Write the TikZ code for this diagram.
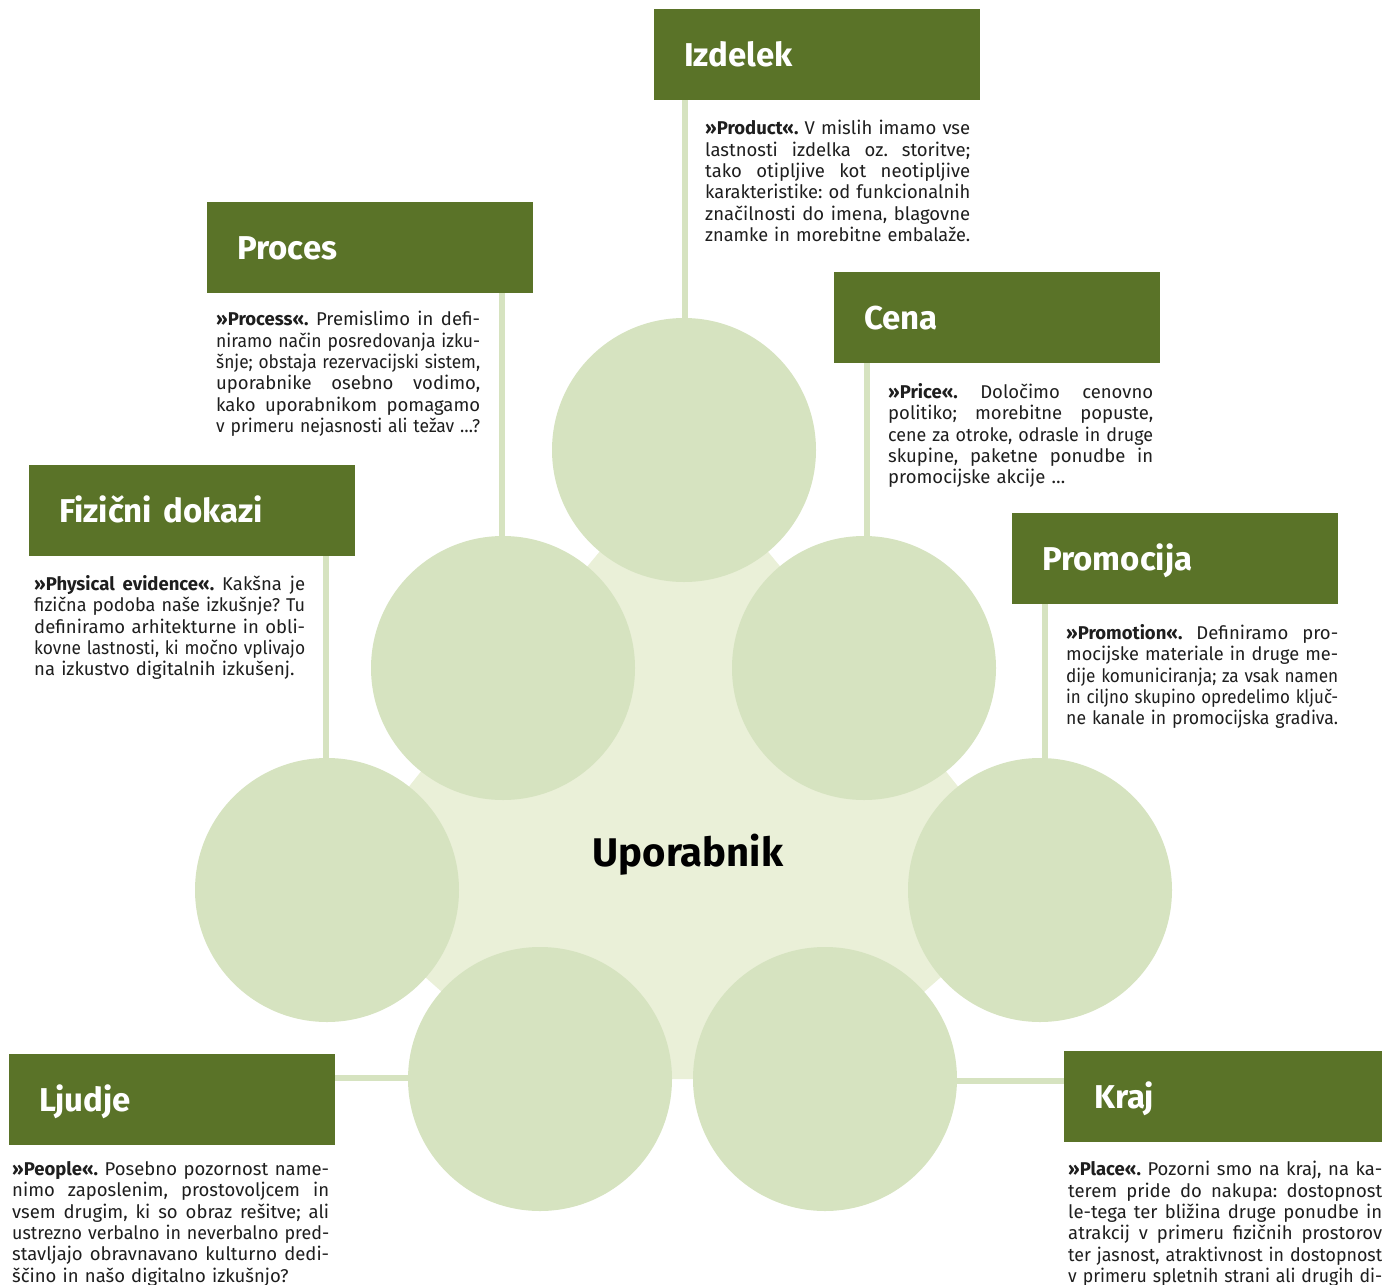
\documentclass[tikz,border=0pt]{standalone}
\usepackage{fontspec}
\setmainfont{Fira Sans}
\usepackage{graphicx}
\definecolor{dkgreen}{RGB}{90,115,40}
\definecolor{circg}{RGB}{214,227,192}
\definecolor{paleg}{RGB}{234,240,216}
\definecolor{ink}{RGB}{30,30,30}
\newlength\jlw
\newlength\pw
\newcommand\jl[1]{\settowidth\jlw{#1}\ifdim\jlw>\pw\relax\resizebox{\pw}{\height}{#1}\else{\spaceskip=\fontdimen2\font plus 1fil\relax\makebox[\pw][s]{#1}}\fi}
\newcommand\jlast[1]{\settowidth\jlw{#1}\ifdim\jlw>\pw\relax\resizebox{\pw}{\height}{#1}\else\makebox[\pw][l]{#1}\fi}
\tikzset{
  circ/.style={circle, fill=circg, draw=none, minimum size=264pt, inner sep=0pt},
  conn/.style={draw=circg, line width=6pt},
  headbox/.style={anchor=north west, fill=dkgreen, text=white, minimum width=326pt, minimum height=91pt,
    inner xsep=30pt, inner ysep=0pt, text width=266pt, align=left, text height=22.7pt, text depth=0pt,
    font=\fontsize{33pt}{37pt}\selectfont\bfseries},
  body/.style={anchor=north west, inner sep=0pt, text width=#1, align=left, text=ink,
    font=\fontsize{18.5pt}{21.4pt}\selectfont\frenchspacing,
    execute at begin node={\setlength\pw{#1}\rule{0pt}{14pt}}},
}
\begin{document}
\begin{tikzpicture}[x=1pt, y=-1pt]
\useasboundingbox (0,0) rectangle (1382,1285);
\clip (0,0) rectangle (1382,1285);
% circle positions
\path (684,450) coordinate (p1);
\path (864,668) coordinate (p2);
\path (1040,890) coordinate (p3);
\path (825,1079) coordinate (p4);
\path (540,1079) coordinate (p5);
\path (327,890) coordinate (p6);
\path (503,668) coordinate (p7);
% pale heptagon
\fill[paleg] (p1) -- (p2) -- (p3) -- (p4) -- (p5) -- (p6) -- (p7) -- cycle;
% heading boxes
\node[headbox] (izd) at (654,9) {Izdelek};
\node[headbox] (pro) at (207,202) {Proces};
\node[headbox] (cen) at (834,272) {Cena};
\node[headbox] (fiz) at (29,465) {Fizični dokazi};
\node[headbox] (prm) at (1012,513) {Promocija};
\node[headbox] (lju) at (9,1054) {Ljudje};
\node[headbox] (kra) at (1064,1051) {Kraj};
% connectors
\draw[conn] ([xshift=1pt]p1) -- ([xshift=1pt]p1 |- izd.south);
\draw[conn] ([xshift=-1pt]p7) -- ([xshift=-1pt]p7 |- pro.south);
\draw[conn] ([xshift=3pt]p2) -- ([xshift=3pt]p2 |- cen.south);
\draw[conn] ([xshift=-1pt]p6) -- ([xshift=-1pt]p6 |- fiz.south);
\draw[conn] ([xshift=5pt]p3) -- ([xshift=5pt]p3 |- prm.south);
\draw[conn] ([yshift=1pt]p5) -- ([yshift=1pt]p5 -| lju.east);
\draw[conn] ([yshift=-2pt]p4) -- ([yshift=-2pt]p4 -| kra.west);
% circles
\node[circ] (c1) at (p1) {};
\node[circ] (c2) at (p2) {};
\node[circ] (c3) at (p3) {};
\node[circ] (c4) at (p4) {};
\node[circ] (c5) at (p5) {};
\node[circ] (c6) at (p6) {};
\node[circ] (c7) at (p7) {};
% centre label
\node[font=\fontsize{40pt}{44pt}\selectfont\bfseries, text=black, text height=27.5pt, text depth=0pt, inner sep=0pt] (user) at (688,853) {Uporabnik};
% body texts
\node[body=265pt] (tizd) at (705,120) {%
\jl{\textbf{»Product«.} V mislih imamo vse}\\
\jl{lastnosti izdelka oz. storitve;}\\
\jl{tako otipljive kot neotipljive}\\
\jl{karakteristike: od funkcionalnih}\\
\jl{značilnosti do imena, blagovne}\\
\jl{znamke in morebitne embalaže.}};
\node[body=264pt] (tpro) at (216,311) {%
\jl{\textbf{»Process«.} Premislimo in defi-}\\
\jl{niramo način posredovanja izku-}\\
\jl{šnje; obstaja rezervacijski sistem,}\\
\jl{uporabnike osebno vodimo,}\\
\jl{kako uporabnikom pomagamo}\\
\jlast{v primeru nejasnosti ali težav …?}};
\node[body=265pt] (tcen) at (888,383) {%
\jl{\textbf{»Price«.} Določimo cenovno}\\
\jl{politiko; morebitne popuste,}\\
\jl{cene za otroke, odrasle in druge}\\
\jl{skupine, paketne ponudbe in}\\
\jlast{promocijske akcije …}};
\node[body=271pt] (tfiz) at (34,575) {%
\jl{\textbf{»Physical evidence«.} Kakšna je}\\
\jl{fizična podoba naše izkušnje? Tu}\\
\jl{definiramo arhitekturne in obli-}\\
\jl{kovne lastnosti, ki močno vplivajo}\\
\jlast{na izkustvo digitalnih izkušenj.}};
\node[body=272pt] (tprm) at (1066,624) {%
\jl{\textbf{»Promotion«.} Definiramo pro-}\\
\jl{mocijske materiale in druge me-}\\
\jl{dije komuniciranja; za vsak namen}\\
\jl{in ciljno skupino opredelimo ključ-}\\
\jlast{ne kanale in promocijska gradiva.}};
\node[body=317pt] (tlju) at (12,1161) {%
\jl{\textbf{»People«.} Posebno pozornost name-}\\
\jl{nimo zaposlenim, prostovoljcem in}\\
\jl{vsem drugim, ki so obraz rešitve; ali}\\
\jl{ustrezno verbalno in neverbalno pred-}\\
\jl{stavljajo obravnavano kulturno dedi-}\\
\jlast{ščino in našo digitalno izkušnjo?}};
\node[body=314pt] (tkra) at (1068,1161) {%
\jl{\textbf{»Place«.} Pozorni smo na kraj, na ka-}\\
\jl{terem pride do nakupa: dostopnost}\\
\jl{le-tega ter bližina druge ponudbe in}\\
\jl{atrakcij v primeru fizičnih prostorov}\\
\jl{ter jasnost, atraktivnost in dostopnost}\\
\jl{v primeru spletnih strani ali drugih di-}};
\end{tikzpicture}
\end{document}
